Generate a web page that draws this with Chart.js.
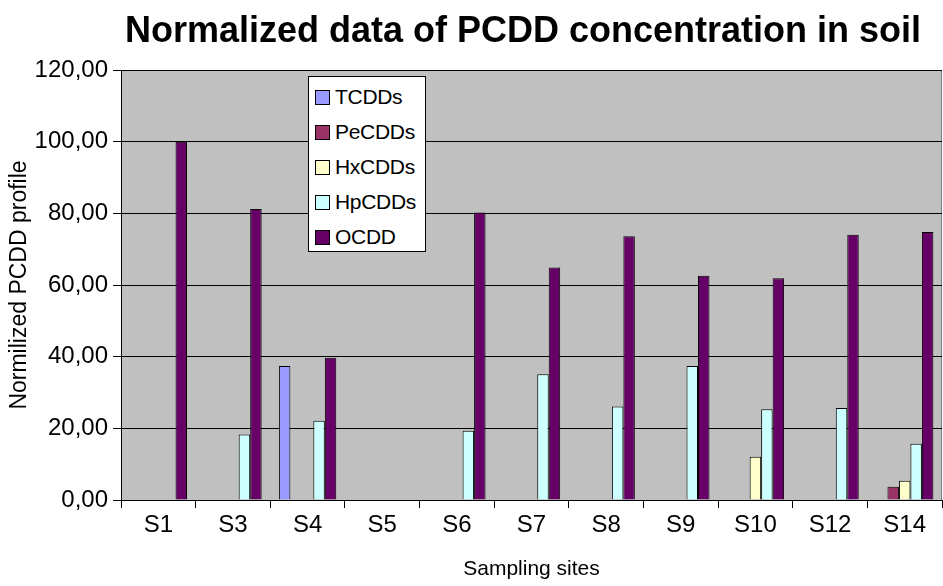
<!DOCTYPE html>
<html>
<head>
<meta charset="utf-8">
<script src="https://cdn.jsdelivr.net/npm/chart.js@4.4.0/dist/chart.umd.min.js"></script>
<style>
  html, body { margin: 0; padding: 0; background: #fff; }
  #wrap { position: relative; width: 943px; height: 586px; }
  #legend {
    position: absolute; left: 308px; top: 76px; width: 116px; height: 174px;
    background: #fff; border: 1px solid #000; box-sizing: content-box;
    font-family: "Liberation Sans", Arial, sans-serif; font-size: 21px; color: #000;
  }
  #legend .item { position: absolute; left: 6px; height: 24px; display: flex; align-items: center; letter-spacing: -0.3px; }
  #legend .sw { width: 13px; height: 13px; border: 1px solid #000; margin-right: 5px; }
</style>
</head>
<body>
<div id="wrap">
  <canvas id="c" width="943" height="586"></canvas>
  <div id="legend"></div>
</div>
<script>
const categories = ["S1", "S3", "S4", "S5", "S6", "S7", "S8", "S9", "S10", "S12", "S14"];
const seriesNames = ["TCDDs", "PeCDDs", "HxCDDs", "HpCDDs", "OCDD"];
const seriesColors = ["#9999FF", "#993366", "#FFFFCC", "#CCFFFF", "#660066"];
const tcdds  = [0, 0, 37.4, 0, 0, 0, 0, 0, 0, 0, 0];
const pecdds = [0, 0, 0, 0, 0, 0, 0, 0, 0, 0, 3.7];
const hxcdds = [0, 0, 0, 0, 0, 0, 0, 0, 12.1, 0, 5.4];
const hpcdds = [0, 18.3, 22.1, 0, 19.3, 35.1, 26.1, 37.4, 25.3, 25.7, 15.7];
const ocdd   = [100, 81.2, 39.7, 0, 80.2, 64.9, 73.6, 62.6, 61.9, 74.0, 74.8];
const yTicks = [0, 20, 40, 60, 80, 100, 120];
const chartTitle = 'Normalized data of PCDD concentration in soil';
const allSeries = [tcdds, pecdds, hxcdds, hpcdds, ocdd];

const FONT = '"Liberation Sans", Arial, sans-serif';

const plotBg = {
  id: 'plotBg',
  beforeDraw(chart) {
    const {ctx, chartArea: a} = chart;
    ctx.save();
    ctx.fillStyle = '#C0C0C0';
    ctx.fillRect(a.left, a.top, a.right - a.left, a.bottom - a.top);
    ctx.strokeStyle = '#808080';
    ctx.lineWidth = 1;
    ctx.beginPath();
    ctx.moveTo(a.left, a.top + 0.5);
    ctx.lineTo(a.right, a.top + 0.5);
    ctx.moveTo(a.right - 0.5, a.top);
    ctx.lineTo(a.right - 0.5, a.bottom);
    ctx.stroke();
    ctx.restore();
  },
  afterDraw(chart) {
    const {ctx} = chart;
    ctx.save();
    ctx.fillStyle = '#000';
    ctx.font = 'bold 36px ' + FONT;
    ctx.textAlign = 'center';
    ctx.textBaseline = 'middle';
    ctx.fillText(chartTitle, 523, 32);
    ctx.restore();
  }
};

const datasets = allSeries.map((d, i) => ({
  label: seriesNames[i],
  data: d,
  backgroundColor: seriesColors[i],
  borderColor: '#000',
  borderWidth: 1,
  borderSkipped: 'bottom',
  categoryPercentage: 5 / 6.5,
  barPercentage: 1.0
}));

const chart = new Chart(document.getElementById('c'), {
  type: 'bar',
  data: { labels: categories, datasets },
  plugins: [plotBg],
  options: {
    responsive: false,
    animation: false,
    devicePixelRatio: 1,
    layout: { padding: { left: 0, right: 1, top: 70, bottom: 4 } },
    plugins: {
      legend: { display: false },
      tooltip: { enabled: false },
      title: { display: false }
    },
    scales: {
      x: {
        offset: true,
        grid: { offset: true, drawOnChartArea: false, color: '#000', tickLength: 8, tickColor: '#000' },
        border: { color: '#000', width: 1 },
        ticks: { color: '#000', font: { family: FONT, size: 24 }, padding: 3, maxRotation: 0 },
        title: { display: true, text: 'Sampling sites', color: '#000', font: { family: FONT, size: 21 }, padding: { top: 14, bottom: 0 } }
      },
      y: {
        min: 0, max: 120,
        afterBuildTicks(axis) { axis.ticks = yTicks.map(v => ({ value: v })); },
        grid: { color: '#000', tickLength: 8, tickColor: '#000', drawOnChartArea: true },
        border: { color: '#000', width: 1 },
        ticks: {
          color: '#000', font: { family: FONT, size: 24 }, padding: 5,
          callback: v => v.toFixed(2).replace('.', ',')
        },
        title: { display: true, text: 'Normilized PCDD profile', color: '#000', font: { family: FONT, size: 23 }, padding: { top: 6, bottom: 0 } },
        afterFit(axis) { axis.width = 121; }
      }
    }
  }
});

const leg = document.getElementById('legend');
seriesNames.forEach((n, i) => {
  const it = document.createElement('div');
  it.className = 'item';
  it.style.top = (8 + i * 35) + 'px';
  const sw = document.createElement('span');
  sw.className = 'sw';
  sw.style.background = seriesColors[i];
  const t = document.createElement('span');
  t.textContent = n;
  it.appendChild(sw); it.appendChild(t);
  leg.appendChild(it);
});
</script>
</body>
</html>
